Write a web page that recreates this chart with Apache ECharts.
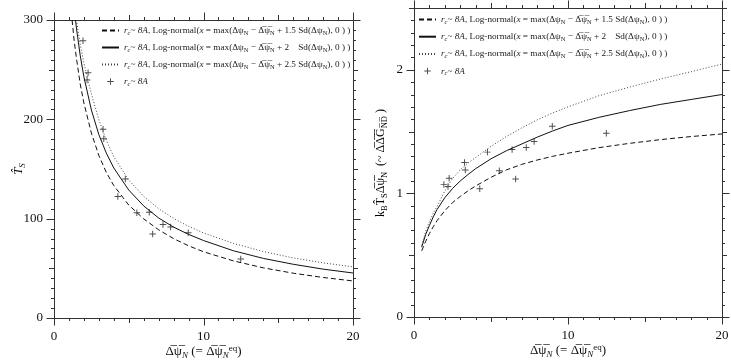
<!DOCTYPE html>
<html><head><meta charset="utf-8">
<script src="https://cdn.jsdelivr.net/npm/echarts@6/dist/echarts.min.js"></script>
<style>html,body{margin:0;padding:0;background:#fff}#c{width:731px;height:360px}</style>
</head><body><div id="c"></div>
<script>
// ---- data ----
const xTicks = [0, 10, 20];
const leftYTicks = [0, 100, 200, 300];
const rightYTicks = [0, 1, 2];

// left panel: T_S curves
const leftDashX  = [1.21, 1.35, 1.5, 1.75, 2, 2.5, 3, 3.5, 4, 5, 6, 7, 8, 9, 10, 12, 14, 16, 18, 20];
const leftDashY  = [300, 279, 261.7, 235.8, 216.4, 186.2, 163.6, 146.5, 133.3, 113.7, 99.8, 88.8, 79.9, 72.7, 66.7, 57.5, 50.5, 45.1, 40.8, 37.3];
const leftSolidX = [1.44, 1.5, 1.75, 2, 2.5, 3, 3.5, 4, 5, 6, 7, 8, 9, 10, 12, 14, 16, 18, 20];
const leftSolidY = [300, 291.9, 264.6, 242.8, 209.4, 184.6, 166, 151.0, 128.8, 112.8, 100.7, 91.5, 84.2, 78.0, 67.7, 60.0, 54.1, 49.2, 45.3];
const leftDotX   = [1.5, 1.75, 2, 2.5, 3, 3.5, 4, 5, 6, 7, 8, 9, 10, 12, 14, 16, 18, 20];
const leftDotY   = [300, 276, 256.6, 225.5, 199.7, 179, 162.3, 138.9, 122.5, 110.0, 100.3, 92.3, 85.6, 75.1, 66.9, 60.5, 55.5, 51.5];

// right panel: k_B T_S dpsi curves
const rightX     = [0.5, 0.75, 1, 1.25, 1.5, 2, 2.5, 3, 3.5, 4, 5, 6, 7, 8, 9, 10, 12, 14, 16, 18, 20];
const rightDash  = [0.535, 0.61, 0.675, 0.73, 0.78, 0.86, 0.925, 0.975, 1.02, 1.06, 1.13, 1.19, 1.235, 1.27, 1.30, 1.325, 1.37, 1.405, 1.435, 1.46, 1.481];
const rightSolid = [0.565, 0.665, 0.74, 0.81, 0.87, 0.965, 1.04, 1.10, 1.152, 1.20, 1.28, 1.345, 1.40, 1.455, 1.505, 1.55, 1.615, 1.67, 1.72, 1.76, 1.80];
const rightDot   = [0.58, 0.69, 0.77, 0.84, 0.895, 1.02, 1.12, 1.19, 1.245, 1.29, 1.38, 1.46, 1.53, 1.595, 1.65, 1.70, 1.79, 1.86, 1.925, 1.985, 2.046];

// simulation points (r_c ~ 8A)
const ptsX = [1.94, 2.28, 2.21, 3.28, 3.33, 4.77, 4.27, 5.54, 6.37, 6.6, 7.29, 7.8, 8.98, 12.49];
const ptsT = [279.2, 247, 239.6, 190, 180.5, 140, 122.3, 106, 106.5, 84.6, 94.1, 91.6, 85.9, 59.4];
const ptsR = [1.073, 1.122, 1.055, 1.25, 1.19, 1.334, 1.038, 1.183, 1.355, 1.117, 1.371, 1.42, 1.544, 1.487];

// ---- chart ----
const FONT = '"Liberation Serif", "Times New Roman", serif';
const AX = '#333';
const pair = (xs, ys) => xs.map((x, i) => [x, ys[i]]);
const OV = 'Δ\u0305ψ\u0305';

const legendRich = {
  n: {fontFamily: FONT, fontSize: 9.2, lineHeight: 12, color: '#222'},
  i: {fontFamily: FONT, fontSize: 9.2, lineHeight: 12, fontStyle: 'italic', color: '#222'},
  s: {fontFamily: FONT, fontSize: 6.5, lineHeight: 5, verticalAlign: 'bottom', color: '#222'},
  si: {fontFamily: FONT, fontSize: 6.5, lineHeight: 5, verticalAlign: 'bottom', fontStyle: 'italic', color: '#222'}
};
const lgBase = '{i|r}{si|c}{n|~ }{i|8A}';
function lgText(k) {
  return lgBase + '{n|, Log-normal(}{i|x}{n| = max(Δψ}{s|N}{n| − ' + OV + '}{s|N}{n| + ' + k + ' Sd(Δψ}{s|N}{n|), 0 ) )}';
}
const legendTexts = {
  dash: lgText('1.5'),
  solid: lgText('2\u2002 '),
  dot: lgText('2.5'),
  pts: lgBase
};

const nameRich = {
  n: {fontFamily: FONT, fontSize: 13, lineHeight: 16, color: '#111'},
  i: {fontFamily: FONT, fontSize: 13, lineHeight: 16, fontStyle: 'italic', color: '#111'},
  si: {fontFamily: FONT, fontSize: 9, lineHeight: 8, verticalAlign: 'bottom', fontStyle: 'italic', color: '#111'},
  s: {fontFamily: FONT, fontSize: 9, lineHeight: 8, verticalAlign: 'bottom', color: '#111'},
  sp: {fontFamily: FONT, fontSize: 9, lineHeight: 8, verticalAlign: 'top', color: '#111'}
};
const nameRichR = {
  n: {fontFamily: FONT, fontSize: 12, lineHeight: 16, color: '#111'},
  s: {fontFamily: FONT, fontSize: 8.5, lineHeight: 7, verticalAlign: 'bottom', color: '#111'}
};
const xName = '{n|' + OV + '}{si|N}{n| (= ' + OV + '}{si|N}{sp|eq}{n|)}';
const yNameL = '{i|T\u0302}{si|S}';
const yNameR = '{n|k}{s|B}{n|T\u0302}{s|S}{n|' + OV + '}{s|N}{n|  (~ Δ\u0305Δ\u0305G\u0305}{s|N\u0305D\u0305}{n| )}';

const labelStyle = (ticks, margin) => ({
  show: true, margin: margin, fontFamily: FONT, fontSize: 13, color: '#111',
  formatter: v => (ticks.indexOf(+(+v).toFixed(6)) >= 0 ? String(v) : '')
});

function frameAxis(kind, g, pos, min, max, interval, labels, ticks, extra) {
  return Object.assign({
    type: 'value', gridIndex: g, position: pos, min: min, max: max, interval: interval,
    axisLine: {show: true, onZero: false, lineStyle: {color: AX, width: 1}},
    axisTick: {show: false}, minorTick: {show: false},
    axisLabel: labels ? labelStyle(ticks, kind === 'x' ? 12 : 11) : {show: false},
    splitLine: {show: false}, minorSplitLine: {show: false}
  }, extra || {});
}

const xAxis = [
  frameAxis('x', 0, 'bottom', 0, 20, 5, true, xTicks,
    {name: xName, nameLocation: 'middle', nameGap: 26, nameMoveOverlap: false, nameTextStyle: {rich: nameRich}}),
  frameAxis('x', 0, 'top', 0, 20, 5, false, xTicks),
  frameAxis('x', 1, 'bottom', 0, 20, 5, true, xTicks,
    {name: xName, nameLocation: 'middle', nameGap: 26, nameMoveOverlap: false, nameTextStyle: {rich: nameRich}}),
  frameAxis('x', 1, 'top', 0, 20, 5, false, xTicks)
];
const yAxis = [
  frameAxis('y', 0, 'left', 0, 300, 50, true, leftYTicks,
    {name: yNameL, nameLocation: 'middle', nameGap: 27, nameMoveOverlap: false, nameTextStyle: {rich: nameRich}}),
  frameAxis('y', 0, 'right', 0, 300, 50, false, leftYTicks),
  frameAxis('y', 1, 'left', 0, 2.5, 0.5, true, rightYTicks),
  frameAxis('y', 1, 'right', 0, 2.5, 0.5, false, rightYTicks)
];

// tick marks (outward on all four sides): [a, b, length, kind]
function tickData(xMax, xStep, xMid, xMaj, yMax, yStep, yMid, yMaj) {
  const d = [];
  const lenOf = (v, mid, maj) => {
    const r = (m) => Math.abs(v / m - Math.round(v / m)) < 1e-6;
    return r(maj) ? 7.5 : (r(mid) ? 5 : 3);
  };
  for (let i = 0; i * xStep <= xMax + 1e-9; i++) { const v = i * xStep; d.push([v, 0, lenOf(v, xMid, xMaj), 0]); }
  for (let i = 0; i * yStep <= yMax + 1e-9; i++) { const v = +(i * yStep).toFixed(6); d.push([0, v, lenOf(v, yMid, yMaj), 1]); }
  return d;
}
function tickSeries(xi, yi, xMax, yMax, data) {
  return {
    type: 'custom', xAxisIndex: xi, yAxisIndex: yi, data: data, silent: true, clip: false,
    animation: false, z: 5,
    renderItem: function (params, api) {
      const len = api.value(2), kind = api.value(3);
      const st = {stroke: AX, lineWidth: 1};
      const px = (v) => Math.round(v) + 0.5;
      if (kind === 0) {
        const v = api.value(0);
        const p0 = api.coord([v, 0]), p1 = api.coord([v, yMax]);
        const x = px(p0[0]);
        return {type: 'group', children: [
          {type: 'line', shape: {x1: x, y1: p0[1], x2: x, y2: p0[1] + len}, style: st},
          {type: 'line', shape: {x1: x, y1: p1[1], x2: x, y2: p1[1] - len}, style: st}
        ]};
      } else {
        const v = api.value(1);
        const p0 = api.coord([0, v]), p1 = api.coord([xMax, v]);
        const y = px(p0[1]);
        return {type: 'group', children: [
          {type: 'line', shape: {x1: p0[0], y1: y, x2: p0[0] - len, y2: y}, style: st},
          {type: 'line', shape: {x1: p1[0], y1: y, x2: p1[0] + len, y2: y}, style: st}
        ]};
      }
    }
  };
}

const PLUS = 'path://M4.25,0H5.75V10H4.25Z M0,4.25H10V5.75H0Z';
function lineSeries(name, xi, yi, data, type, color) {
  return {
    name: name, type: 'line', xAxisIndex: xi, yAxisIndex: yi, data: data,
    symbol: 'none', smooth: false, clip: true, silent: true,
    lineStyle: {color: color, width: 1, type: type}, itemStyle: {color: color},
    animation: false
  };
}
function ptSeries(xi, yi, data) {
  return {
    name: 'pts', type: 'scatter', xAxisIndex: xi, yAxisIndex: yi, data: data,
    symbol: PLUS, symbolSize: 6.5, itemStyle: {color: '#222'}, silent: true, animation: false
  };
}

const hideSym = {opacity: 0};
const legendCommon = {
  orient: 'vertical', selectedMode: false, itemWidth: 17, itemHeight: 6.5,
  data: [
    {name: 'dash', itemStyle: hideSym},
    {name: 'solid', itemStyle: hideSym},
    {name: 'dot', itemStyle: hideSym},
    {name: 'pts'}
  ],
  formatter: n => legendTexts[n],
  textStyle: {rich: legendRich, fontFamily: FONT, fontSize: 9.2}
};

const option = {
  animation: false,
  backgroundColor: '#fff',
  grid: [
    {left: 54, top: 20, width: 299, height: 298, containLabel: false, outerBoundsMode: 'none'},
    {left: 414, top: 8, width: 308, height: 309, containLabel: false, outerBoundsMode: 'none'}
  ],
  xAxis: xAxis,
  yAxis: yAxis,
  legend: [
    Object.assign({left: 96, top: 21, itemGap: 6.5}, legendCommon),
    Object.assign({left: 413, top: 10, itemGap: 6.7}, legendCommon)
  ],
  graphic: [{
    type: 'text', x: 381, y: 163, rotation: Math.PI / 2, silent: true,
    style: {text: yNameR, rich: nameRichR, align: 'center', verticalAlign: 'middle', fontFamily: FONT, fontSize: 12}
  }],
  series: [
    tickSeries(0, 0, 20, 300, tickData(20, 1, 5, 10, 300, 10, 50, 100)),
    tickSeries(2, 2, 20, 2.5, tickData(20, 1, 5, 10, 2.5, 0.1, 0.5, 1)),
    lineSeries('dash', 0, 0, pair(leftDashX, leftDashY), [5, 3], '#111'),
    lineSeries('solid', 0, 0, pair(leftSolidX, leftSolidY), 'solid', '#111'),
    lineSeries('dot', 0, 0, pair(leftDotX, leftDotY), [1, 2], '#444'),
    ptSeries(0, 0, pair(ptsX, ptsT)),
    lineSeries('dash', 2, 2, pair(rightX, rightDash), [5, 3], '#111'),
    lineSeries('solid', 2, 2, pair(rightX, rightSolid), 'solid', '#111'),
    lineSeries('dot', 2, 2, pair(rightX, rightDot), [1, 2], '#444'),
    ptSeries(2, 2, pair(ptsX, ptsR))
  ]
};
const chart = echarts.init(document.getElementById('c'), null, {renderer: 'canvas'});
chart.setOption(option);
</script>
</body></html>
